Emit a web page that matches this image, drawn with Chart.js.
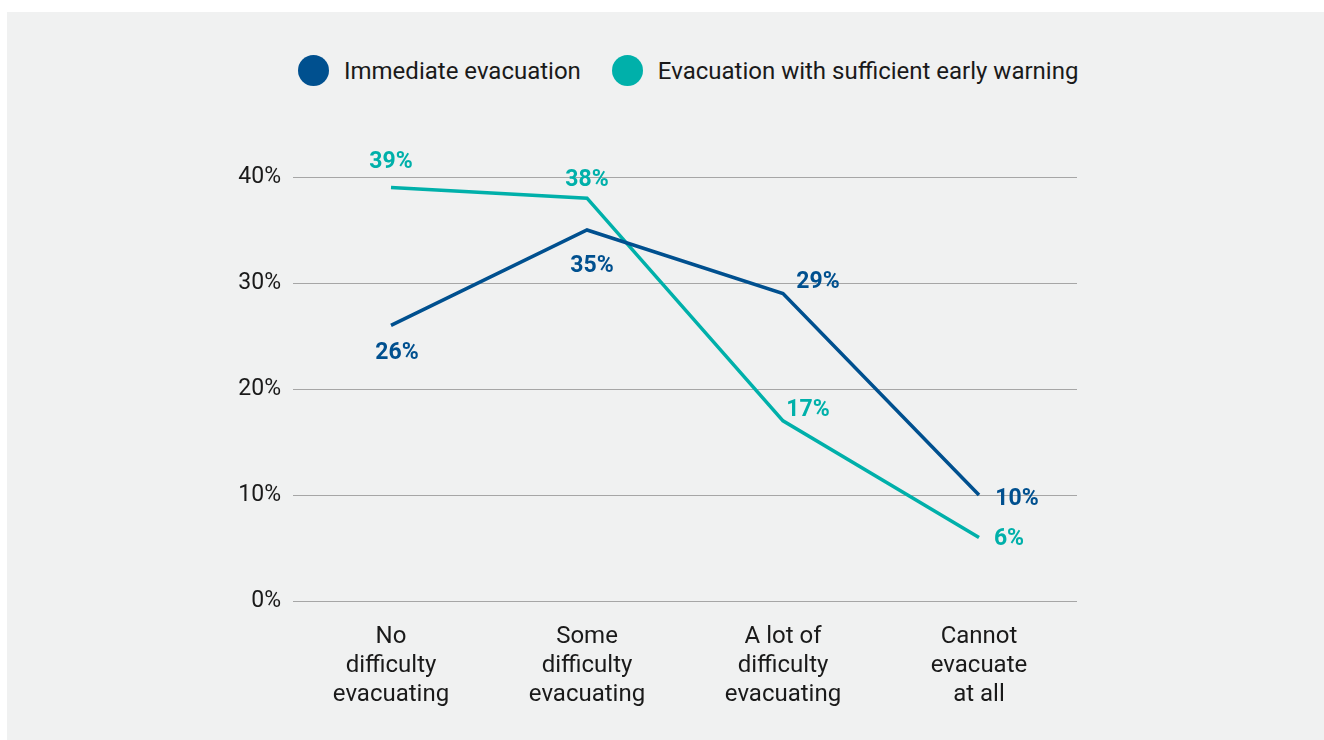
<!DOCTYPE html>
<html>
<head>
<meta charset="utf-8">
<script src="https://cdn.jsdelivr.net/npm/chart.js@4/dist/chart.umd.min.js"></script>
<style>
    html, body { margin: 0; padding: 0; background: #ffffff; }
    body { width: 1324px; height: 740px; position: relative; overflow: hidden; font-family: Roboto, sans-serif; }
    #panel { position: absolute; left: 7px; top: 12px; right: 0; bottom: 0; background: #f0f1f1; }
    #chart-wrap { position: absolute; left: 0; top: 0; width: 1324px; height: 740px; }
    #legend { position: absolute; left: 298px; top: 55px; height: 31px; display: flex; align-items: center; color: #1a1a1a; font-size: 24px; }
    #legend .dot { width: 31px; height: 31px; border-radius: 50%; margin-right: 15px; }
    #legend .item { display: flex; align-items: center; margin-right: 31px; white-space: nowrap; }
</style>
</head>
<body>
<div id="panel"></div>
<div id="legend"></div>
<div id="chart-wrap"><canvas id="evac-chart"></canvas></div>
<script>
// Chart data
const categories = [
    ['No', 'difficulty', 'evacuating'],
    ['Some', 'difficulty', 'evacuating'],
    ['A lot of', 'difficulty', 'evacuating'],
    ['Cannot', 'evacuate', 'at all']
];
const seriesNames = ['Immediate evacuation', 'Evacuation with sufficient early warning'];
const immediateValues = [26, 35, 29, 10];
const earlyWarningValues = [39, 38, 17, 6];

const colors = ['#00508f', '#00b0aa'];

// where each value label sits relative to its point (dx, dy in px)
const labelOffsets = [
    [[6, 28], [5, 36], [35, -11], [38, 4]],
    [[0, -25], [0, -18], [25, -11], [30, 2]]
];

// HTML legend
const legendEl = document.getElementById('legend');
seriesNames.forEach(function(name, i) {
    const item = document.createElement('div');
    item.className = 'item';
    item.innerHTML = '<span class="dot" style="background:' + colors[i] + '"></span><span>' + name + '</span>';
    legendEl.appendChild(item);
});

// Draw the value labels next to the points
const valueLabels = {
    id: 'valueLabels',
    afterDatasetsDraw(chart) {
        const ctx = chart.ctx;
        ctx.save();
        ctx.font = 'bold 23px Roboto, sans-serif';
        ctx.textAlign = 'center';
        ctx.textBaseline = 'middle';
        chart.data.datasets.forEach(function(ds, di) {
            const meta = chart.getDatasetMeta(di);
            ctx.fillStyle = ds.borderColor;
            meta.data.forEach(function(pt, i) {
                const off = labelOffsets[di][i];
                ctx.fillText(ds.data[i] + '%', pt.x + off[0], pt.y + off[1]);
            });
        });
        ctx.restore();
    }
};

Chart.defaults.font.family = 'Roboto, sans-serif';
Chart.defaults.color = '#1a1a1a';

new Chart(document.getElementById('evac-chart'), {
    type: 'line',
    data: {
        labels: categories,
        datasets: [
            {
                label: seriesNames[0],
                data: immediateValues,
                borderColor: colors[0],
                backgroundColor: colors[0],
                borderWidth: 3.5,
                pointRadius: 0,
                tension: 0
            },
            {
                label: seriesNames[1],
                data: earlyWarningValues,
                borderColor: colors[1],
                backgroundColor: colors[1],
                borderWidth: 3.5,
                pointRadius: 0,
                tension: 0
            }
        ]
    },
    options: {
        responsive: true,
        maintainAspectRatio: false,
        animation: false,
        layout: {
            padding: { left: 200, right: 247, top: 177, bottom: 0 }
        },
        plugins: {
            legend: { display: false },
            tooltip: { enabled: false }
        },
        scales: {
            x: {
                offset: true,
                grid: { display: false },
                border: { display: false },
                ticks: {
                    padding: 13,
                    maxRotation: 0,
                    autoSkip: false,
                    font: { size: 24, lineHeight: '29px' }
                },
                afterFit: function(scale) { scale.height = 139; }
            },
            y: {
                min: 0,
                max: 40,
                grid: { color: '#a6a6a6', lineWidth: 1, drawTicks: false },
                border: { display: false },
                ticks: {
                    stepSize: 10,
                    padding: 12,
                    font: { size: 23 },
                    callback: function(v) { return v + '%'; }
                },
                afterFit: function(scale) { scale.width = 93; }
            }
        }
    },
    plugins: [valueLabels]
});
</script>
</body>
</html>
